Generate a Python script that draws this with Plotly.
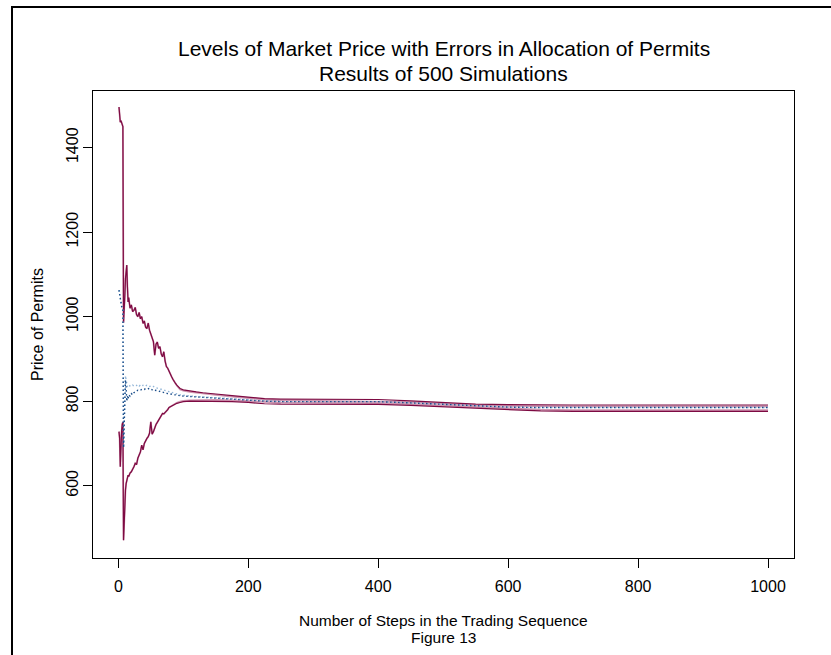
import plotly.graph_objects as go

# Trading-sequence step at which each value was recorded
steps = [1, 2, 3, 4, 5, 6, 7, 8, 9, 10, 11, 12, 13, 14, 15, 16,
         18, 20, 22, 24, 26, 28, 30, 32, 34, 36, 38, 40, 42, 44, 46, 48, 50,
         52, 54, 56, 58, 60, 62, 64, 66, 68, 70, 72, 74, 76, 78, 80, 82, 84,
         86, 88, 90, 95, 100, 110, 120, 130, 140, 150, 175, 200, 225, 250,
         300, 350, 400, 450, 500, 550, 600, 650, 700, 750, 800, 850, 900, 950, 1000]

# Upper band of the simulated price
upper_a = [1496, 1470, 1460, 1464, 1457, 1455, 1450, 986, 1010, 1050, 1090, 1105, 1122, 1070, 1035, 1045,
           1020, 1028, 1012, 1015, 1022, 1005, 1000, 1010, 995, 1000, 984, 990, 975, 972, 985, 968, 960,
           950, 941, 909, 935, 940, 925, 929, 912, 905, 917, 895, 882, 878, 870, 865, 858, 852,
           846, 842, 838, 830, 827, 824, 822, 820, 818, 817, 813, 809, 806, 805,
           804.5, 804.5, 804, 801, 797, 793, 792, 791, 791, 791, 791, 791, 791, 791, 791]
upper_b = [1496, 1470, 1460, 1464, 1457, 1455, 1450, 986, 1010, 1050, 1090, 1105, 1122, 1070, 1035, 1045,
           1020, 1028, 1012, 1015, 1022, 1005, 1000, 1010, 995, 1000, 984, 990, 975, 972, 985, 968, 960,
           950, 941, 909, 935, 940, 925, 929, 912, 905, 917, 895, 882, 878, 870, 865, 858, 852,
           846, 842, 837, 828, 825, 822, 820, 818, 816, 815, 811, 807, 804, 802,
           801, 801, 800.5, 798, 794, 790, 789, 788, 788, 788, 788, 788, 788, 788, 788]

# Lower band of the simulated price
lower_a = [728, 712, 645, 722, 728, 745, 751, 471, 520, 560, 590, 605, 613, 618, 625, 622,
           630, 633, 638, 645, 653, 650, 665, 672, 680, 696, 685, 700, 708, 712, 716, 724, 751,
           722, 728, 738, 745, 750, 756, 760, 765, 771, 770, 773, 775, 780, 785, 787, 789, 791,
           793, 794, 795, 797, 799, 800, 800, 800, 800, 800, 799, 797, 794, 793,
           793, 793, 792.5, 790, 787, 784.5, 780, 777, 776, 776, 776, 776, 776, 776, 776]
lower_b = [728, 712, 645, 722, 728, 745, 751, 471, 520, 560, 590, 605, 613, 618, 625, 622,
           630, 633, 638, 645, 653, 650, 665, 672, 680, 696, 685, 700, 708, 712, 716, 724, 751,
           722, 728, 738, 745, 750, 756, 760, 765, 771, 770, 773, 775, 780, 785, 787, 789, 791,
           793, 794, 796, 799, 801, 802, 802.5, 803, 803, 803, 802, 800, 797.5, 796.5,
           796, 796, 795.5, 793, 790, 787.5, 783, 780, 779, 779, 779, 779, 779, 779, 779]

# Average simulated price
mean_a = [1063, 1050, 1040, 1030, 1025, 1020, 1019, 690, 760, 810, 850, 830, 800, 812, 805, 815,
          812, 818, 815, 820, 822, 824, 826, 825, 827, 828, 829, 828, 830, 829, 830, 828, 829,
          827, 828, 826, 826, 825, 824, 823, 822, 822, 821, 820, 819, 818, 818, 817, 817, 816,
          815, 815, 814, 813, 812, 811, 810, 809, 808, 807, 805, 803, 800, 799,
          799, 799, 799, 796, 793, 789, 786, 785, 785, 785, 785, 785, 785, 785, 785]
mean_b = [1063, 1050, 1040, 1030, 1025, 1020, 1019, 690, 770, 840, 860, 850, 838, 834, 836, 838,
          836, 835, 838, 836, 838, 837, 839, 836, 838, 840, 837, 838, 836, 838, 837, 835, 836,
          834, 835, 833, 832, 831, 830, 829, 828, 827, 826, 825, 824, 823, 822, 821, 820, 819,
          818, 817, 816, 815, 814, 812, 811, 810, 809, 808, 805, 803, 800, 799,
          799, 799, 799, 796, 793, 789, 786, 785, 785, 785, 785, 785, 785, 785, 785]

x_ticks = [0, 200, 400, 600, 800, 1000]
y_ticks = [600, 800, 1000, 1200, 1400]

FONT = "Liberation Sans, Arial, Helvetica, sans-serif"
MAROON = "#7d0a42"
PINK = "#cf95b0"
BLUE = "#1b4e8a"
LIGHT_BLUE = "#93b6d8"
DOTS = "1.5px,2.5px"

fig = go.Figure()
for ys in (upper_b, lower_b):
    fig.add_trace(go.Scatter(x=steps, y=ys, mode="lines",
                             line=dict(color=PINK, width=1.8)))
for ys in (upper_a, lower_a):
    fig.add_trace(go.Scatter(x=steps, y=ys, mode="lines",
                             line=dict(color=MAROON, width=1.2)))
fig.add_trace(go.Scatter(x=steps, y=mean_b, mode="lines",
                         line=dict(color=LIGHT_BLUE, width=1.4, dash=DOTS)))
fig.add_trace(go.Scatter(x=steps, y=mean_a, mode="lines",
                         line=dict(color=BLUE, width=1.4, dash=DOTS)))

# plot area in pixels: left 93, right 794, top 91, bottom 558
W, H = 831, 655
L, R, T, B = 93, 794, 91, 558


def px(xp):
    return (xp - L) / (R - L)


def py(yp):
    return (B - yp) / (B - T)


axis_common = dict(showline=True, linecolor="black", linewidth=1, mirror=True,
                   ticks="outside", ticklen=9, tickcolor="black", tickwidth=1,
                   showgrid=False, zeroline=False,
                   tickfont=dict(family=FONT, size=16, color="black"))

fig.update_xaxes(range=[-39, 1040], tickvals=x_ticks, ticklabelstandoff=5, **axis_common)
fig.update_yaxes(range=[429, 1534], tickvals=y_ticks, tickangle=-90, ticklabelstandoff=-1,
                 **axis_common)

annotations = [
    dict(text="Levels of Market Price with Errors in Allocation of Permits",
         x=0.5, y=py(49), size=21),
    dict(text="Results of 500 Simulations", x=0.5, y=py(73.5), size=21),
    dict(text="Number of Steps in the Trading Sequence", x=0.5, y=py(620), size=15.5),
    dict(text="Figure 13", x=0.5, y=py(637.5), size=15.5),
]
ann = []
for a in annotations:
    ann.append(dict(text=a["text"], x=a["x"], y=a["y"], xref="paper", yref="paper",
                    xanchor="center", yanchor="middle", showarrow=False,
                    font=dict(family=FONT, size=a["size"], color="black")))
ann.append(dict(text="Price of Permits", x=px(37), y=py(325), xref="paper", yref="paper",
                xanchor="center", yanchor="middle", showarrow=False, textangle=-90,
                font=dict(family=FONT, size=16, color="black")))

# outer frame on the left and top edges of the page
frame = dict(type="path", xref="paper", yref="paper",
             path=f"M {px(12)},{py(H + 5)} L {px(12)},{py(7)} L {px(W + 5)},{py(7)}",
             line=dict(color="black", width=2))

fig.update_layout(
    width=W, height=H,
    margin=dict(l=L, r=W - R, t=T, b=H - B, pad=0),
    paper_bgcolor="white", plot_bgcolor="white",
    showlegend=False,
    annotations=ann,
    shapes=[frame],
)

fig.write_html("out.html")
